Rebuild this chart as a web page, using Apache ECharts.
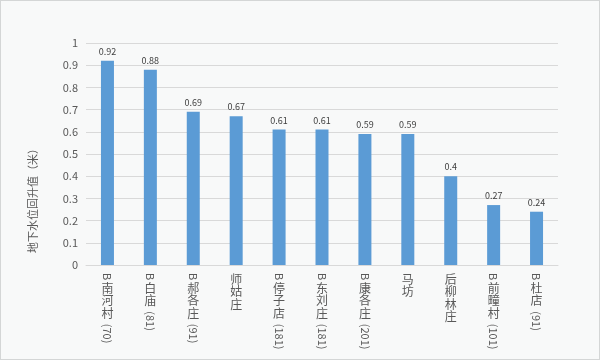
<!DOCTYPE html>
<html><head><meta charset="utf-8">
<script src="https://cdn.jsdelivr.net/npm/echarts@6/dist/echarts.min.js"></script>
<style>
html,body{margin:0;padding:0;background:#ffffff;}
#c{width:600px;height:360px;box-sizing:border-box;border:1px solid #d4d6d6;background:#f8f9f9;}
</style></head>
<body><div id="c"></div>
<script>
var categories = ['B南河村(70)', 'B白庙(81)', 'B郝各庄(91)', '师姑庄', 'B停子店(181)', 'B东刘庄(181)', 'B康各庄(201)', '马坊', '后柳林庄', 'B前疃村(101)', 'B杜店(91)'];
var values = [0.92, 0.88, 0.69, 0.67, 0.61, 0.61, 0.59, 0.59, 0.4, 0.27, 0.24];
var yTicks = [0, 0.1, 0.2, 0.3, 0.4, 0.5, 0.6, 0.7, 0.8, 0.9, 1];
var yAxisTitle = '地下水位回升值（米）';

var FONT = '"Noto Sans CJK SC", "Microsoft YaHei", sans-serif';
var LABEL_COLOR = '#595959';
var mctx = document.createElement('canvas').getContext('2d');
function measure(t, size) { mctx.font = size + 'px ' + FONT; return mctx.measureText(t).width; }

function renderLabel(params, api) {
  var idx = api.value(0);
  var pt = api.coord([idx, 0]);
  var x = pt[0], y = pt[1] + 8;
  var segs = categories[idx].match(/[\u4e00-\u9fff]|[^\u4e00-\u9fff]+/g);
  var children = [];
  var prevCJK = false;
  segs.forEach(function (s) {
    if (/[\u4e00-\u9fff]/.test(s)) {
      children.push({type: 'text', x: x, y: y,
        style: {text: s, fill: LABEL_COLOR, fontSize: 12, fontFamily: FONT, align: 'center', verticalAlign: 'top'}});
      y += 12.5;
      prevCJK = true;
    } else {
      if (prevCJK) y += 4;
      var w = measure(s, 11);
      children.push({type: 'text', x: x, y: y, rotation: -Math.PI / 2,
        style: {text: s, fill: LABEL_COLOR, fontSize: 11, fontFamily: FONT, align: 'left', verticalAlign: 'middle'}});
      y += w + 2;
      prevCJK = false;
    }
  });
  return {type: 'group', children: children};
}

var chart = echarts.init(document.getElementById('c'), null, {renderer: 'canvas'});
chart.setOption({
  backgroundColor: 'transparent',
  animation: false,
  grid: {left: 85, right: 41, top: 42, bottom: 94},
  xAxis: {
    type: 'category',
    data: categories,
    axisLine: {lineStyle: {color: '#d9d9d9'}},
    axisTick: {show: false},
    axisLabel: {show: false}
  },
  yAxis: {
    type: 'value',
    min: yTicks[0], max: yTicks[yTicks.length - 1], interval: 0.1,
    axisLine: {show: false},
    axisTick: {show: false},
    axisLabel: {color: LABEL_COLOR, fontSize: 11, fontFamily: FONT, margin: 8},
    splitLine: {lineStyle: {color: '#d9d9d9'}}
  },
  graphic: [{
    type: 'text', x: 32, y: 197, rotation: Math.PI / 2,
    style: {text: yAxisTitle, fill: LABEL_COLOR, fontSize: 11, fontFamily: FONT, align: 'center', verticalAlign: 'middle'}
  }],
  series: [{
    type: 'bar',
    data: values,
    barWidth: 13,
    itemStyle: {color: '#5b9bd5'},
    label: {show: true, position: 'top', distance: 5, color: '#404040', fontSize: 9, fontFamily: FONT}
  }, {
    type: 'custom',
    silent: true,
    clip: false,
    data: categories.map(function (c, i) { return [i, 0]; }),
    encode: {x: 0, y: 1},
    renderItem: renderLabel
  }]
});
</script></body></html>
